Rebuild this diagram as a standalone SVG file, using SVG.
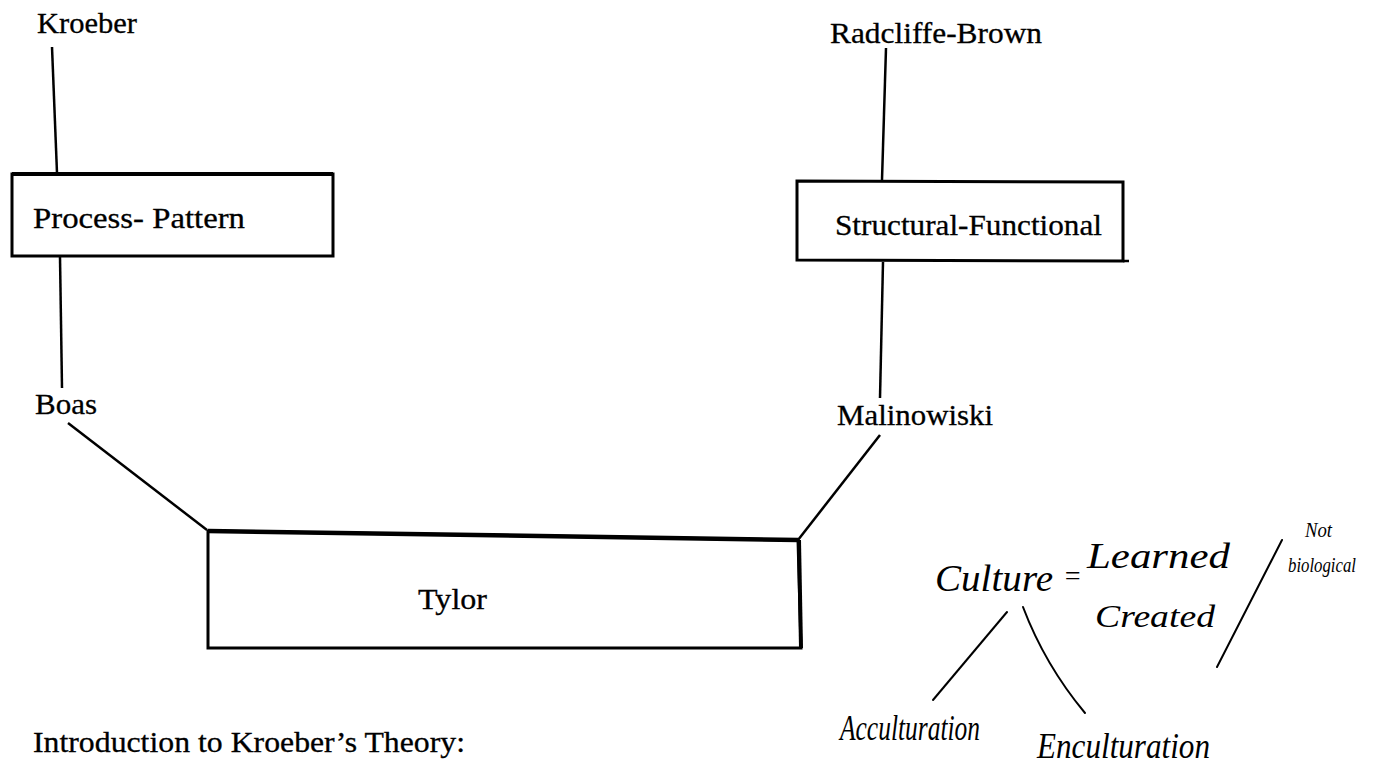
<svg xmlns="http://www.w3.org/2000/svg" width="1373" height="765" viewBox="0 0 1373 765">
<style>
.lbl{font-family:"Liberation Serif","Times New Roman",serif;font-size:30px;fill:#000;stroke:#000;stroke-width:0.3}
.box{fill:none;stroke:#000;stroke-width:3;stroke-linejoin:miter}
.con{fill:none;stroke:#000;stroke-width:2.5;stroke-linecap:butt}
.hw{font-family:"Liberation Serif",serif;font-style:italic;fill:#000}
.hwl{fill:none;stroke:#000;stroke-width:2;stroke-linecap:round}
</style>
<rect width="1373" height="765" fill="#fff"/>
<g id="connectors">
<path class="con" d="M52 47 L57 173"/>
<path class="con" d="M60 257 L62 388"/>
<path class="con" d="M68 423 L207 530"/>
<path class="con" d="M886 48 L882 180"/>
<path class="con" d="M883 262 L880 398"/>
<path class="con" d="M880 435 L798 540"/>
</g>
<g id="kroeber"><text class="lbl" x="37" y="33" textLength="100" lengthAdjust="spacingAndGlyphs">Kroeber</text></g>
<g id="process-pattern">
<path class="box" d="M12 174 L333 174 L333 256 L12 256 Z"/>
<path d="M12 174 L333 174" stroke="#000" stroke-width="4"/>
<text class="lbl" x="33" y="228" textLength="212" lengthAdjust="spacingAndGlyphs">Process- Pattern</text>
</g>
<g id="boas"><text class="lbl" x="35" y="414" textLength="62" lengthAdjust="spacingAndGlyphs">Boas</text></g>
<g id="tylor">
<path class="box" d="M208 531 L798 540 L801 648 L208 648 Z"/>
<path d="M208 531 L798 540" stroke="#000" stroke-width="4.5"/>
<path d="M799 540 L801 648" stroke="#000" stroke-width="4"/>
<text class="lbl" x="418" y="609" textLength="69" lengthAdjust="spacingAndGlyphs">Tylor</text>
</g>
<g id="radcliffe-brown"><text class="lbl" x="830" y="43" textLength="212" lengthAdjust="spacingAndGlyphs">Radcliffe-Brown</text></g>
<g id="structural-functional">
<path class="box" d="M797 181 L1123 182 L1123 261 L797 260 Z"/>
<path d="M1123 261 L1129 261" stroke="#000" stroke-width="2.5"/>
<text class="lbl" x="835" y="235" textLength="267" lengthAdjust="spacingAndGlyphs">Structural-Functional</text>
</g>
<g id="malinowiski"><text class="lbl" x="837" y="425" textLength="156" lengthAdjust="spacingAndGlyphs">Malinowiski</text></g>
<g id="intro"><text class="lbl" x="33" y="752" textLength="432" lengthAdjust="spacingAndGlyphs">Introduction to Kroeber’s Theory:</text></g>
<g id="culture-note">
<text class="hw" x="935" y="591" font-size="38" textLength="118" lengthAdjust="spacingAndGlyphs">Culture</text>
<text class="hw" x="1063" y="585" font-size="28">=</text>
<text class="hw" x="1087" y="568" font-size="36" textLength="143" lengthAdjust="spacingAndGlyphs">Learned</text>
<text class="hw" x="1095" y="627" font-size="32" textLength="120" lengthAdjust="spacingAndGlyphs">Created</text>
<text class="hw" x="1305" y="537" font-size="22" textLength="27" lengthAdjust="spacingAndGlyphs">Not</text>
<text class="hw" x="1288" y="572" font-size="20" textLength="68" lengthAdjust="spacingAndGlyphs">biological</text>
<path class="hwl" d="M1282 540 L1217 667"/>
<path class="hwl" d="M1007 612 L933 700"/>
<path class="hwl" d="M1023 607 Q1045 665 1085 713"/>
<text class="hw" x="840" y="740" font-size="36" textLength="140" lengthAdjust="spacingAndGlyphs">Acculturation</text>
<text class="hw" x="1037" y="758" font-size="36" textLength="173" lengthAdjust="spacingAndGlyphs">Enculturation</text>
</g>
</svg>
